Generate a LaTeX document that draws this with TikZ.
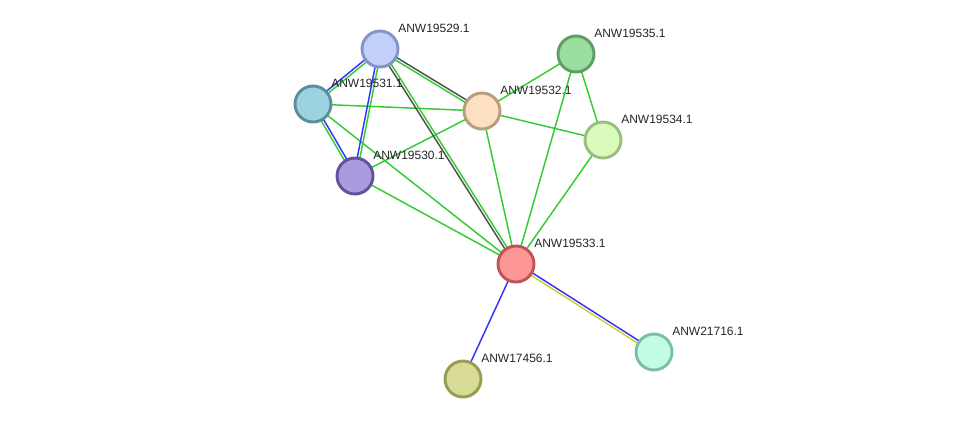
\documentclass[tikz,border=0pt]{standalone}
\usepackage{fontspec}
\setmainfont{Liberation Sans}
\usetikzlibrary{calc,backgrounds}
\definecolor{edgeGreen}{HTML}{33CC33}
\definecolor{edgeBlue}{HTML}{3333FF}
\definecolor{edgeGrey}{HTML}{505050}
\definecolor{edgeYellow}{HTML}{C8D232}
\begin{document}
\begin{tikzpicture}
[x=0.75pt,y=-0.75pt,
  nodeDecorate/.style={shape=circle,minimum size=27pt,inner sep=0pt,line width=2.2pt},%
  lineDecorate/.style={-,line width=1.1pt},%
  labelDecorate/.style={anchor=west,inner sep=0pt,font=\fontsize{9}{10}\selectfont,text=black!85}]
\useasboundingbox (0,0) rectangle (976,425);
%% proteins
\foreach \nodename/\x/\y/\fc/\dc/\name in {
  n29/380/49/C2D0FA/8394C6/ANW19529.1, n35/576/54/9ADE9F/5E9E64/ANW19535.1,
  n31/313/104/9BD4E0/5B8E9C/ANW19531.1, n32/482/111/FDDFC1/B89D7E/ANW19532.1,
  n34/603/140/DAFBBE/9BBD7E/ANW19534.1, n30/355/176/AC9ADF/62539E/ANW19530.1,
  n33/516/264/FD9696/C05454/ANW19533.1, n16/654/352/C3FCE4/7EBEA8/ANW21716.1,
  n56/463/379/D8DB96/999D52/ANW17456.1}
{
  \definecolor{fillc}{HTML}{\fc}
  \definecolor{drawc}{HTML}{\dc}
  \node (\nodename) at (\x,\y) [nodeDecorate,fill=fillc,draw=drawc] {};
  \node (\nodename-l) at (\x+18,\y-21) [labelDecorate] {\name};
}
%% interactions
\begin{pgfonlayer}{background}
\foreach \startnode/\endnode in {n31/n32, n31/n33, n30/n32, n30/n33, n32/n35,
  n32/n34, n32/n33, n35/n34, n35/n33, n34/n33}
{
  \draw[lineDecorate,edgeGreen] (\startnode.center) -- (\endnode.center);
}
\foreach \startnode/\endnode/\ca/\cb in {n29/n30/edgeGreen/edgeBlue,
  n29/n31/edgeGreen/edgeBlue, n31/n30/edgeBlue/edgeGreen,
  n29/n32/edgeGrey/edgeGreen, n29/n33/edgeGreen/edgeGrey,
  n33/n16/edgeBlue/edgeYellow}
{
  \draw[lineDecorate,\ca] ($(\startnode)!1pt!90:(\endnode)$) -- ($(\endnode)!1pt!-90:(\startnode)$);
  \draw[lineDecorate,\cb] ($(\startnode)!1pt!-90:(\endnode)$) -- ($(\endnode)!1pt!90:(\startnode)$);
}
\draw[lineDecorate,edgeBlue] (n33.center) -- (n56.center);
\end{pgfonlayer}
\end{tikzpicture}
\end{document}
